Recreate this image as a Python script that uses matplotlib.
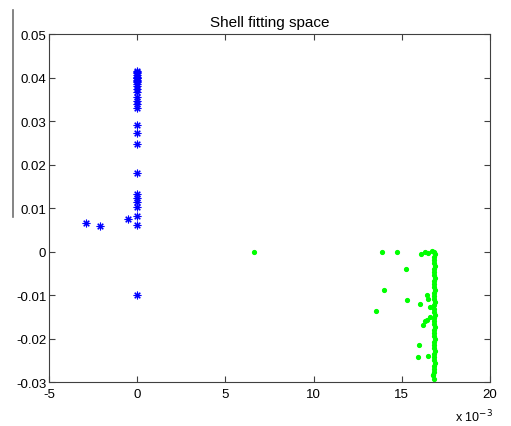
import numpy as np
import matplotlib.pyplot as plt
from matplotlib.lines import Line2D
from matplotlib.ticker import FuncFormatter

plt.rcParams['font.family'] = ['Liberation Sans', 'DejaVu Sans']
plt.rcParams['axes.unicode_minus'] = False

# blue cluster (x in units of 1e-3)
blue_x = [0, 0, 0, 0, 0, 0, 0, 0, 0, 0, 0, 0, 0, 0, 0, 0, 0, 0, 0, 0, 0, 0, 0, 0,
          0, 0, 0, 0, -2.9, -2.1, -0.5, 0]
blue_y = [0.0414, 0.0410, 0.0406, 0.0402, 0.0398, 0.0394, 0.0390, 0.0386,
          0.0380, 0.0373, 0.0366, 0.0356, 0.0345, 0.0338, 0.0331,
          0.0290, 0.0272, 0.0247, 0.0181, 0.0132, 0.0122, 0.0113, 0.0103,
          0.0081, 0.0060, 0.0412, 0.0400, 0.0392, 0.0066, 0.0058, 0.0074, -0.0100]

# green cluster (x in units of 1e-3)
green_col_y = [0.0, -0.0005, -0.0012, -0.0019, -0.0026, -0.0033, -0.0040, -0.0047,
               -0.0054, -0.0061, -0.0068, -0.0075, -0.0082, -0.0089, -0.0096,
               -0.0103, -0.0110, -0.0117, -0.0124, -0.0131, -0.0138, -0.0145,
               -0.0152, -0.0159, -0.0166, -0.0173, -0.0180, -0.0187, -0.0194,
               -0.0201, -0.0208, -0.0215, -0.0222, -0.0229, -0.0236, -0.0243,
               -0.0250, -0.0257, -0.0264, -0.0271, -0.0278, -0.0285, -0.0292]
green_col_x = [16.8, 16.9, 16.8, 16.85, 16.8, 16.9, 16.8, 16.85, 16.8, 16.9,
               16.8, 16.85, 16.8, 16.9, 16.8, 16.85, 16.8, 16.9, 16.8, 16.85,
               16.8, 16.9, 16.8, 16.85, 16.8, 16.9, 16.8, 16.85, 16.8, 16.9,
               16.8, 16.85, 16.8, 16.9, 16.8, 16.85, 16.8, 16.9, 16.8, 16.85,
               16.8, 16.75, 16.85]
green_sc_x = [6.6, 13.9, 14.7, 16.1, 16.3, 16.5, 16.7, 15.25, 14.0, 15.3, 16.05,
              16.5, 16.6, 13.55, 16.3, 16.45, 16.2, 15.95, 15.9, 16.5, 16.75,
              16.4, 16.6]
green_sc_y = [0.0, 0.0, 0.0, -0.0005, 0.0, -0.0003, 0.0002, -0.0040, -0.0089,
              -0.0112, -0.0120, -0.0110, -0.0127, -0.0137, -0.0160, -0.0158,
              -0.0168, -0.0216, -0.0242, -0.0240, -0.0283, -0.0100, -0.0150]

fig = plt.figure(figsize=(5.11, 4.27), dpi=100)
ax = fig.add_axes([0.096, 0.103, 0.863, 0.815])

ax.plot(green_col_x, green_col_y, '.', color=(0, 1, 0), markersize=5.5, linestyle='none')
ax.plot(green_sc_x, green_sc_y, '.', color=(0, 1, 0), markersize=5.5, linestyle='none')
ax.plot(blue_x, blue_y, marker=(8, 2, 0), color=(0, 0, 1), markersize=5.5,
        markeredgewidth=0.8, linestyle='none')

ax.set_xlim(-5, 20)
ax.set_ylim(-0.03, 0.05)
ax.set_xticks([-5, 0, 5, 10, 15, 20])
ax.set_yticks([-0.03, -0.02, -0.01, 0, 0.01, 0.02, 0.03, 0.04, 0.05])
ax.yaxis.set_major_formatter(FuncFormatter(lambda v, p: '%g' % round(v, 4)))
ax.tick_params(direction='in', top=True, right=True, labelsize=9.5, length=4, pad=2,
               color='#404040')
ax.tick_params(axis='x', pad=4)
for s in ax.spines.values():
    s.set_color('#404040')
ax.set_title('Shell fitting space', fontsize=11, pad=6)

fig.text(0.89, 0.012, r'x 10$^{-3}$', fontsize=9)

# stray vertical line at the left edge of the scan
fig.add_artist(Line2D([0.025, 0.025], [0.49, 0.975], color='#707070', lw=1.2))

fig.savefig('out.png', dpi=100, facecolor='white')
